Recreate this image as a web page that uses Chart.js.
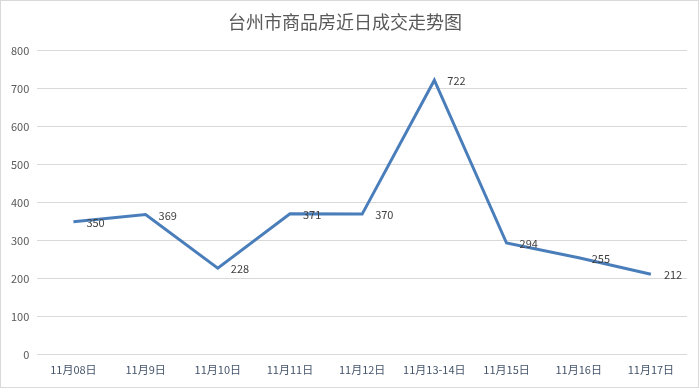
<!DOCTYPE html>
<html>
<head>
<meta charset="utf-8">
<script src="https://cdn.jsdelivr.net/npm/chart.js@4/dist/chart.umd.min.js"></script>
<style>
  html, body { margin: 0; padding: 0; background: #fff; }
  #wrap { position: absolute; left: 0; top: 0; width: 697px; height: 386px; border: 1px solid #d9d9d9; }
</style>
</head>
<body>
<div id="wrap"><canvas id="myChart" width="697" height="386"></canvas></div>
<script>
const days = ['11月08日', '11月9日', '11月10日', '11月11日', '11月12日', '11月13-14日', '11月15日', '11月16日', '11月17日'];
const sales = [350, 369, 228, 371, 370, 722, 294, 255, 212];
const yTicks = [0, 100, 200, 300, 400, 500, 600, 700, 800];

const fontFamily = "'Noto Sans CJK SC', 'DejaVu Sans', sans-serif";

// labels drawn to the right of each point
const valueLabels = {
    id: 'valueLabels',
    afterDatasetsDraw(chart) {
        const ctx = chart.ctx;
        const meta = chart.getDatasetMeta(0);
        ctx.save();
        ctx.font = '11px ' + fontFamily;
        ctx.fillStyle = '#404040';
        ctx.textAlign = 'left';
        ctx.textBaseline = 'middle';
        meta.data.forEach(function (pt, i) {
            ctx.fillText(String(sales[i]), pt.x + 13, pt.y + 1);
        });
        ctx.restore();
    }
};

const ctx = document.getElementById('myChart').getContext('2d');
const myChart = new Chart(ctx, {
    type: 'line',
    data: {
        labels: days,
        datasets: [{
            label: '成交',
            data: sales,
            borderColor: '#4a7ebb',
            borderWidth: 3,
            pointRadius: 0,
            tension: 0,
            fill: false
        }]
    },
    options: {
        responsive: false,
        animation: false,
        layout: { padding: { left: 2, right: 11, top: 0, bottom: 3 } },
        plugins: {
            legend: { display: false },
            tooltip: { enabled: false },
            title: {
                display: true,
                text: '台州市商品房近日成交走势图',
                color: '#595959',
                font: { size: 18, family: fontFamily, weight: 'normal' },
                padding: { top: 10, bottom: 18 }
            }
        },
        scales: {
            x: {
                offset: true,
                grid: { display: false, drawTicks: false },
                border: { display: false },
                ticks: {
                    color: '#44546a',
                    font: { size: 11, family: fontFamily },
                    padding: 8,
                    maxRotation: 0,
                    autoSkip: false
                }
            },
            y: {
                min: 0,
                max: 800,
                afterBuildTicks(axis) { axis.ticks = yTicks.map(v => ({ value: v })); },
                grid: { color: '#d9d9d9', lineWidth: 1, drawTicks: false },
                border: { display: false },
                ticks: {
                    color: '#595959',
                    font: { size: 11, family: fontFamily },
                    padding: 8
                }
            }
        }
    },
    plugins: [valueLabels]
});
</script>
</body>
</html>
